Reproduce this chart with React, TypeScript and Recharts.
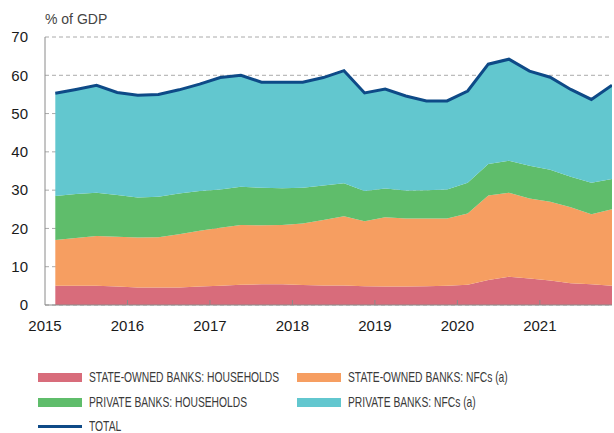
import { ComposedChart, Area, Line, XAxis, YAxis, CartesianGrid } from "recharts"

const quarters = [
  "2015Q1", "2015Q2", "2015Q3", "2015Q4",
  "2016Q1", "2016Q2", "2016Q3", "2016Q4",
  "2017Q1", "2017Q2", "2017Q3", "2017Q4",
  "2018Q1", "2018Q2", "2018Q3", "2018Q4",
  "2019Q1", "2019Q2", "2019Q3", "2019Q4",
  "2020Q1", "2020Q2", "2020Q3", "2020Q4",
  "2021Q1", "2021Q2", "2021Q3", "2021Q4",
]

// % of GDP
const stateHouseholds = [5.0, 5.0, 5.0, 4.8, 4.6, 4.6, 4.6, 4.8, 5.0, 5.3, 5.4, 5.4, 5.2, 5.1, 5.1, 4.9, 4.8, 4.8, 4.9, 5.0, 5.3, 6.5, 7.4, 6.9, 6.4, 5.7, 5.4, 5.0]
const stateNfcs = [12.0, 12.5, 13.0, 13.0, 13.0, 13.1, 13.9, 14.6, 15.2, 15.6, 15.4, 15.5, 16.1, 17.1, 18.1, 17.0, 18.1, 17.8, 17.7, 17.6, 18.6, 22.1, 21.9, 20.9, 20.6, 19.8, 18.3, 20.0]
const privateHouseholds = [11.5, 11.5, 11.3, 10.9, 10.5, 10.6, 10.6, 10.4, 10.0, 10.0, 9.8, 9.6, 9.3, 9.0, 8.6, 7.9, 7.5, 7.3, 7.4, 7.6, 8.0, 8.2, 8.4, 8.6, 8.3, 8.0, 8.2, 7.9]
const privateNfcs = [26.8, 27.3, 28.1, 26.8, 26.7, 26.7, 27.1, 27.9, 29.2, 29.1, 27.6, 27.7, 27.6, 28.2, 29.4, 25.6, 26.0, 24.7, 23.3, 23.1, 24.0, 26.1, 26.5, 24.7, 24.2, 22.8, 21.8, 24.5]
const total = [55.3, 56.3, 57.4, 55.5, 54.8, 55.0, 56.2, 57.7, 59.4, 60.0, 58.2, 58.2, 58.2, 59.4, 61.2, 55.4, 56.4, 54.6, 53.3, 53.3, 55.9, 62.9, 64.2, 61.1, 59.5, 56.3, 53.7, 57.4]

const yearTicks = [2015, 2016, 2017, 2018, 2019, 2020, 2021]
const yTicks = [0, 10, 20, 30, 40, 50, 60, 70]

const COLORS = {
  stateHh: "#d86c7b",
  stateNfc: "#f69e61",
  privHh: "#5fbd6b",
  privNfc: "#62c7cf",
  total: "#0e4a87",
}

// quarter plotted at its mid point
const data = quarters.map((q, i) => ({
  t: Number(q.slice(0, 4)) + (Number(q.slice(5)) - 0.5) / 4,
  stateHh: stateHouseholds[i],
  stateNfc: stateNfcs[i],
  privHh: privateHouseholds[i],
  privNfc: privateNfcs[i],
  total: total[i],
}))

const legendItems = [
  { label: "STATE-OWNED BANKS: HOUSEHOLDS", color: COLORS.stateHh, x: 38, y: 377 },
  { label: "STATE-OWNED BANKS: NFCs (a)", color: COLORS.stateNfc, x: 297, y: 377 },
  { label: "PRIVATE BANKS: HOUSEHOLDS", color: COLORS.privHh, x: 38, y: 402 },
  { label: "PRIVATE BANKS: NFCs (a)", color: COLORS.privNfc, x: 297, y: 402 },
  { label: "TOTAL", color: COLORS.total, x: 38, y: 426, line: true },
]

const XTick = (props: any) => {
  const { x, y, payload } = props
  return (
    <g>
      {payload.value !== 2015 && <line x1={x} x2={x} y1={y - 5} y2={y} stroke="#8a8a8a" />}
      <text x={x} y={y + 26} textAnchor="middle" fontSize={15} fill="#1a1a1a">
        {payload.value}
      </text>
    </g>
  )
}

const RightTick = (props: any) => {
  const { x, y } = props
  return <line x1={x - 3} x2={x} y1={y} y2={y} stroke="#8a8a8a" />
}

export default function App() {
  return (
    <div
      style={{
        position: "absolute",
        left: 0,
        top: 0,
        width: 614,
        height: 433,
        background: "#fff",
        fontFamily: "'Liberation Sans', Arial, sans-serif",
      }}
    >
      <div style={{ position: "absolute", left: 45, top: 11, fontSize: 14, color: "#444" }}>% of GDP</div>

      <ComposedChart
        width={614}
        height={335}
        data={data}
        margin={{ top: 37, right: 0, left: 0, bottom: 0 }}
      >
        <CartesianGrid yAxisId="l" vertical={false} stroke="#aaa" strokeDasharray="4 3" />
        <XAxis
          dataKey="t"
          type="number"
          domain={[2015, 2021.875]}
          ticks={yearTicks}
          allowDataOverflow
          height={30}
          stroke="#8a8a8a"
          tickLine={false}
          tickSize={0}
          tickMargin={0}
          tick={<XTick />}
        />
        <YAxis
          yAxisId="l"
          domain={[0, 70]}
          ticks={yTicks}
          width={45}
          stroke="#8a8a8a"
          tickLine={false}
          tickSize={0}
          tickMargin={17}
          tick={{ fill: "#1a1a1a", fontSize: 15 }}
        />
        <YAxis
          yAxisId="r"
          orientation="right"
          domain={[0, 70]}
          ticks={yTicks}
          width={2}
          axisLine={false}
          tickLine={false}
          tickSize={0}
          tickMargin={0}
          tick={<RightTick />}
        />
        <Area yAxisId="l" type="linear" dataKey="stateHh" stackId="a" stroke="none" fill={COLORS.stateHh} fillOpacity={1} isAnimationActive={false} />
        <Area yAxisId="l" type="linear" dataKey="stateNfc" stackId="a" stroke="none" fill={COLORS.stateNfc} fillOpacity={1} isAnimationActive={false} />
        <Area yAxisId="l" type="linear" dataKey="privHh" stackId="a" stroke="none" fill={COLORS.privHh} fillOpacity={1} isAnimationActive={false} />
        <Area yAxisId="l" type="linear" dataKey="privNfc" stackId="a" stroke="none" fill={COLORS.privNfc} fillOpacity={1} isAnimationActive={false} />
        <Line yAxisId="l" type="linear" dataKey="total" stroke={COLORS.total} strokeWidth={3} dot={false} isAnimationActive={false} />
      </ComposedChart>

      {legendItems.map((item) => (
        <div
          key={item.label}
          style={{
            position: "absolute",
            left: item.x,
            top: item.y - 7,
            height: 14,
            lineHeight: "14px",
            display: "flex",
            alignItems: "center",
            fontSize: 14.5,
            color: "#3a3a3a",
            whiteSpace: "nowrap",
          }}
        >
          <span
            style={{
              display: "inline-block",
              width: 44,
              height: item.line ? 3 : 9,
              background: item.color,
              marginRight: 7,
            }}
          />
          <span style={{ display: "inline-block", transform: "scaleX(0.71)", transformOrigin: "left center" }}>
            {item.label}
          </span>
        </div>
      ))}
    </div>
  )
}
